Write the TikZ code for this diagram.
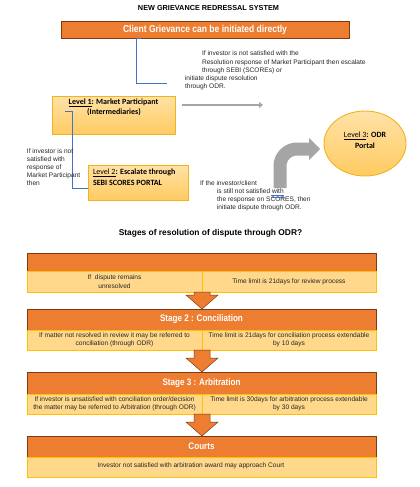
\documentclass[tikz,border=0pt]{standalone}
\usepackage{fontspec}
\setmainfont{Liberation Sans}
\newfontfamily\condfont{Liberation Sans}[FakeStretch=0.85]
\newfontfamily\calfont{Carlito}
\usetikzlibrary{calc,arrows.meta,shapes.geometric}
\definecolor{orng}{HTML}{ED7D31}
\definecolor{dbrown}{HTML}{7F3A12}
\definecolor{rowfill}{HTML}{FFD88C}
\definecolor{goldb}{HTML}{FFC000}
\definecolor{lvltop}{HTML}{FFE2A6}
\definecolor{lvlbot}{HTML}{FFCB62}
\definecolor{lvlborder}{HTML}{F2B320}
\definecolor{grayar}{HTML}{A5A5A5}
\definecolor{blueln}{HTML}{4472C4}
\definecolor{txtc}{HTML}{262626}
\newcommand\myblockarrow[2]{%
  \coordinate (tipA) at (#1.south east |- #2.north);
  \filldraw[blockar] ($(#1.south east)+(-8,0)$) -- ($(tipA)+(-8,-14)$) -- ($(tipA)+(-16,-14)$) -- (tipA)
     -- ($(tipA)+(16,-14)$) -- ($(tipA)+(8,-14)$) -- ($(#1.south east)+(8,0)$) -- cycle;}
\begin{document}
\begin{tikzpicture}[x=1pt,y=-1pt,
  every node/.style={inner sep=0pt, outer sep=0pt, text=txtc},
  ln/.style={anchor=west, font=\fontsize{6.6}{7.5}\selectfont, text height=4.8pt, text depth=1.3pt},
  lvltxt/.style={anchor=center, font=\calfont\fontsize{8}{9}\selectfont\bfseries, text height=5.4pt, text depth=1.6pt, text=black},
  lvlbox/.style={draw=lvlborder, line width=0.9pt, top color=lvltop, bottom color=lvlbot},
  hdr/.style={draw=dbrown, line width=0.6pt, fill=orng, anchor=north west, text=white,
     font=\condfont\bfseries\fontsize{9.5}{10}\selectfont},
  cell/.style={draw=goldb, line width=0.8pt, fill=rowfill, anchor=north west, align=center,
     font=\fontsize{6.6}{7.5}\selectfont},
  blueline/.style={draw=blueln, line width=0.8pt},
  blockar/.style={fill=orng, draw=dbrown, line width=0.5pt, line join=miter},
]
\useasboundingbox (0,0) rectangle (420,487);
\fill[white] (0,0) rectangle (420,487);

% Title
\node[font=\bfseries\fontsize{7.3}{8}\selectfont, text=black] (title) at (208.5,8) {NEW GRIEVANCE REDRESSAL SYSTEM};

% Top orange box
\node[hdr, minimum width=288pt, minimum height=17pt, font=\condfont\bfseries\fontsize{10}{11}\selectfont] (top) at (61,21) {Client Grievance can be initiated directly};

% blue bracket 1
\coordinate (b1end) at (167,83);
\draw[blueline] ([xshift=80pt]top.south west) -- ([xshift=75pt]top.south west) -- ++(0,45) -- (b1end);

% note text
\foreach \i/\x/\y/\t in {1/202/54/{If investor is not satisfied with the},
  2/202/62.5/{Resolution response of Market Participant then escalate},
  3/202/71/{through SEBI (SCOREs) or},
  4/185/79/{initiate dispute resolution},
  5/185/87/{through ODR.}}
  \node[ln] (note\i) at (\x,\y) {\t};

% Level 1
\node[lvlbox, minimum width=123pt, minimum height=38pt, anchor=north west] (l1) at (52,96) {};
\node[lvltxt] (l1a) at (113.5,103) {\underline{Level 1}: Market Participant};
\node[lvltxt] (l1b) at (114,113) {(Intermediaries)};

% straight gray arrow
\coordinate (ga1) at (182,105);
\coordinate (ga2) at (263,105);
\draw[grayar, line width=2.8pt, -{Triangle[length=4pt,width=6pt]}] (ga1) -- (ga2);

% Level 2
\node[lvlbox, minimum width=100pt, minimum height=35pt, anchor=north west] (l2) at (88,165) {};
\node[lvltxt, anchor=west] (l2a) at (93,173) {\underline{\mdseries Level 2}: Escalate through};
\node[lvltxt, anchor=west] (l2b) at (93,184) {SEBI SCORES PORTAL};

% blue bracket 2
\draw[blueline] ($(l1.north west)+(13,15)$) -- ($(l1.north west)+(20,15)$) -- ($(l2.south west)+(-16,-12)$) -- ($(l2.south west)+(0,-12)$);

% left note
\foreach \i/\y/\t in {1/152/{If investor is not}, 2/160/{satisfied with}, 3/168/{response of}, 4/176/{Market Participant}, 5/184/{then}}
  \node[ln] (left\i) at (27,\y) {\t};

% Level 3 ellipse
\node[lvlbox, ellipse, minimum width=82pt, minimum height=65pt] (l3) at (365,143.5) {};
\node[lvltxt] (l3a) at (365,136) {\underline{\mdseries Level 3}: ODR};
\node[lvltxt] (l3b) at (365,147) {Portal};

% bent gray arrow
\coordinate (ca1) at (280,188);
\coordinate (ca2) at (280,149);
\coordinate (ca3) at (310,149);
\draw[grayar, line width=13pt, rounded corners=17pt] (ca1) -- (ca2) -- (ca3);
\fill[grayar] ($(ca3)+(-1,-11)$) -- ($(ca3)+(10,0)$) -- ($(ca3)+(-1,11)$) -- cycle;

% arrow note
\node[ln] (ar1) at (200,184) {If the investor/client};
\node[ln] (ar2) at (217,192) {is still not satisfied with};
\node[ln] (ar3) at (217,200) {the response on SCORES, then};
\node[ln] (ar4) at (217,208) {initiate dispute through ODR.};
\path (ar2.east) ++(-13,3.6) coordinate (w1);
\draw[blueln, line width=0.4pt] (w1) -- ++(13,0) ($(w1)+(0,1.2)$) -- ++(13,0);

% subtitle
\node[font=\bfseries\fontsize{8.4}{9}\selectfont, text=black] (sub) at (210.5,233) {Stages of resolution of dispute through ODR?};

% Stage 1
\node[hdr, minimum width=349pt, minimum height=18pt] (h1) at (27,253) {};
\node[cell, minimum width=175pt, minimum height=21pt] (r1l) at (27,271) {If\ \ dispute remains\\[2.2pt]unresolved};
\node[cell, minimum width=174pt, minimum height=21pt] (r1r) at (202,271) {Time limit is 21days for review process};

% Stage 2
\node[hdr, minimum width=349pt, minimum height=21pt] (h2) at (27,309) {Stage 2 : Conciliation};
\node[cell, minimum width=175pt, minimum height=20pt] (r2l) at (27,330) {If matter not resolved in review it may be referred to\\conciliation (through ODR)};
\node[cell, minimum width=174pt, minimum height=20pt] (r2r) at (202,330) {Time limit is 21days for conciliation process extendable\\by 10 days};

% Stage 3
\node[hdr, minimum width=349pt, minimum height=22pt] (h3) at (27,372) {Stage 3 : Arbitration};
\node[cell, minimum width=175pt, minimum height=20pt] (r3l) at (27,394) {If investor is unsatisfied with conciliation order/decision\\the matter may be referred to Arbitration (through ODR)};
\node[cell, minimum width=174pt, minimum height=20pt] (r3r) at (202,394) {Time limit is 30days for arbitration process extendable\\by 30 days};

% Courts
\node[hdr, minimum width=349pt, minimum height=21pt] (h4) at (27,436) {Courts};
\node[cell, minimum width=349pt, minimum height=20pt] (r4) at (27,457) {};
\node[font=\fontsize{6.6}{7.5}\selectfont] (r4t) at (191,466) {Investor not satisfied with arbitration award may approach Court};

% block arrows
\myblockarrow{r1l}{h2}
\myblockarrow{r2l}{h3}
\myblockarrow{r3l}{h4}
\end{tikzpicture}
\end{document}
